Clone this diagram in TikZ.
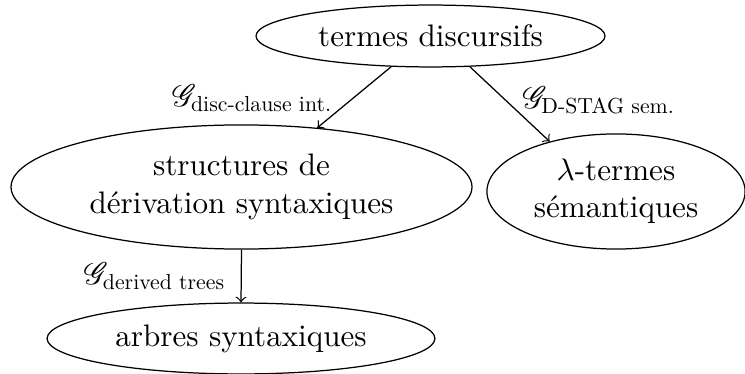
\documentclass[tikz,border=0pt]{standalone}
\usepackage{amsmath}
\usepackage{mathrsfs}
\usetikzlibrary{shapes.geometric}
\newcommand{\subtxt}[1]{\scalebox{0.7}{\normalfont #1}}
\begin{document}
\begin{tikzpicture}[x=0.3215pt,y=-0.3215pt,
  ell/.style={draw,ellipse,inner sep=0pt,align=center},
  lab/.style={inner sep=0pt},
  conn/.style={->}]
\useasboundingbox (0,0) rectangle (745,374);
\node[ell,minimum width=112.2pt,minimum height=19.9pt] (top) at (430.5,36) {termes discursifs};
\node[ell,minimum width=148.2pt,minimum height=39.9pt] (left) at (241.5,187) {structures de\\dérivation syntaxiques};
\node[ell,minimum width=83pt,minimum height=37pt] (right) at (616,191.5) {$\lambda$-termes\\sémantiques};
\node[ell,minimum width=124.7pt,minimum height=22.8pt] (bottom) at (241,338.5) {arbres syntaxiques};
\draw[conn] (top.218.4) -- node[lab,midway,anchor=east,xshift=-6.75pt,yshift=-0.3pt] {$\mathscr{G}_{\subtxt{disc-clause int.}}$} (left.38.2);
\draw[conn] (top.-38.8) -- node[lab,midway,anchor=west,xshift=3.9pt,yshift=1.3pt] {$\mathscr{G}_{\subtxt{D-STAG sem.}}$} (right.143.1);
\draw[conn] (left.south) -- node[lab,midway,anchor=east,xshift=-4.8pt] {$\mathscr{G}_{\subtxt{derived trees}}$} (bottom.north);
\end{tikzpicture}
\end{document}
